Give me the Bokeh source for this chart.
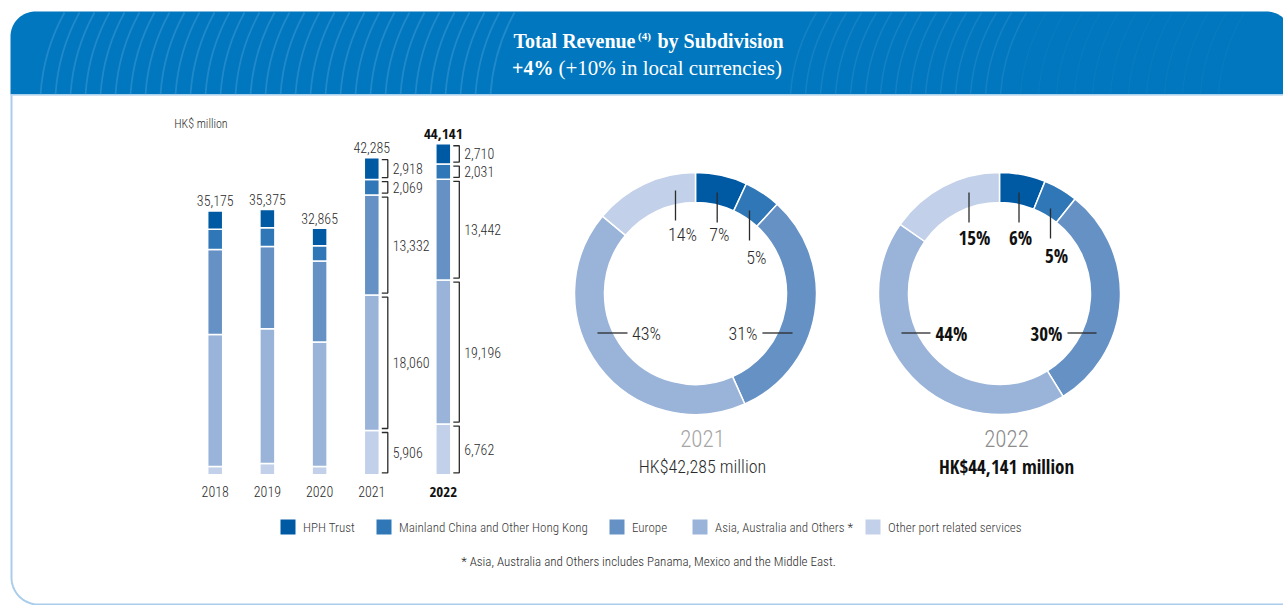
import numpy as np
from bokeh.plotting import figure
from bokeh.models import Range1d, ColumnDataSource
from bokeh.core.properties import value
from bokeh.embed import file_html
from bokeh.resources import INLINE

# ---------------- data ----------------
years = ["2018", "2019", "2020", "2021", "2022"]
series_names = ["HPH Trust", "Mainland China and Other Hong Kong", "Europe",
                "Asia, Australia and Others *", "Other port related services"]
hph_trust = [2440, 2440, 2320, 2918, 2710]
mainland_hk = [2700, 2490, 2040, 2069, 2031]
europe = [11330, 10970, 10800, 13332, 13442]
asia_aus = [17595, 17960, 16595, 18060, 19196]
other_port = [1110, 1515, 1110, 5906, 6762]
totals = [35175, 35375, 32865, 42285, 44141]
pct_2021 = ["7%", "5%", "31%", "43%", "14%"]
pct_2022 = ["6%", "5%", "30%", "44%", "15%"]
unit_label = "HK$ million"
footnote = "* Asia, Australia and Others includes Panama, Mexico and the Middle East."

colors = ["#0059A3", "#2F77B6", "#6691C5", "#9AB3D9", "#C2D1E9"]
header_blue = "#0077BE"
text_col = "#2B2B2B"

# ---------------- layout helpers ----------------
W, H = 1283, 605
def Y(ry):
    return H - ry

LIGHT = value("Roboto Condensed Light")
BOLD = value("Open Sans Condensed")
SERIF = value("Liberation Serif")

K = 0.0075
BASE = Y(474.3)
SLOT0, SLOT_PX = 214.7, 52.2
bar_slots = [0, 1, 2, 3, 4.37]

p = figure(width=W, height=H, x_range=Range1d(0, W), y_range=Range1d(0, H),
           output_backend="svg", toolbar_location=None, min_border=0,
           x_axis_location=None, y_axis_location=None)
p.grid.visible = False
p.outline_line_color = None
p.background_fill_color = "white"
p.border_fill_color = "white"
p.extra_y_ranges = {"val": Range1d(-BASE / K, (H - BASE) / K)}
p.extra_x_ranges = {"slot": Range1d((0 - SLOT0) / SLOT_PX, (W - SLOT0) / SLOT_PX)}

def header_path(x0, x1, y0, y1, r):
    t1 = np.linspace(np.pi, np.pi / 2, 24)
    t2 = np.linspace(np.pi / 2, 0, 24)
    xs = [x0] + list(x0 + r + r * np.cos(t1)) + list(x1 - r + r * np.cos(t2)) + [x1]
    ys = [y1] + list(y0 + r - r * np.sin(t1)) + list(y0 + r - r * np.sin(t2)) + [y1]
    return xs, [Y(v) for v in ys]

hx, hy = header_path(10, 1291, 11, 94, 25)
p.patch(hx, hy, fill_color=header_blue, line_color=None)

xb = np.arange(40, 500, 15.0)
p.quadratic(x0=xb, y0=Y(94), x1=xb + 24, y1=Y(12), cx=xb + 3, cy=Y(50),
            line_color="#2B8FCD", line_width=1.8, line_alpha=0.75)
xb2 = np.arange(790, 1010, 15.0)
p.quadratic(x0=xb2, y0=Y(94), x1=xb2 + 26, y1=Y(12), cx=xb2 + 3, cy=Y(50),
            line_color="#2B8FCD", line_width=1.6, line_alpha=0.45)
xb3 = np.arange(1020, 1230, 18.0)
p.quadratic(x0=xb3, y0=Y(94), x1=xb3 + 26, y1=Y(12), cx=xb3 + 3, cy=Y(50),
            line_color="#2B8FCD", line_width=1.2, line_alpha=0.2)

t = np.linspace(np.pi, 1.5 * np.pi, 24)
bx = [11, 11] + list(38 + 27 * np.cos(t)) + [1300]
by = [94.5, 577] + list(577 - 27 * np.sin(t)) + [604]
p.line(bx, [Y(v) for v in by], line_color="#A9CDEB", line_width=2)
p.line([10, 1291], [Y(94.5), Y(94.5)], line_color="#BBD8EE", line_width=1.5)

# title
p.text(x=[635], y=[Y(40)], text=["Total Revenue"], text_font=SERIF, text_font_style="bold",
       text_font_size="20px", text_color="white", text_align="right", text_baseline="middle")
p.text(x=[637.5], y=[Y(35.5)], text=["(4)"], text_font=SERIF, text_font_style="bold",
       text_font_size="11px", text_color="white", text_align="left", text_baseline="middle")
p.text(x=[657], y=[Y(40)], text=["by Subdivision"], text_font=SERIF, text_font_style="bold",
       text_font_size="20px", text_color="white", text_align="left", text_baseline="middle")
p.text(x=[553], y=[Y(67.5)], text=["+4%"], text_font=SERIF, text_font_style="bold",
       text_font_size="20px", text_color="white", text_align="right", text_baseline="middle")
p.text(x=[558], y=[Y(67.5)], text=["(+10% in local currencies)"], text_font=SERIF,
       text_font_size="21px", text_color="white", text_align="left", text_baseline="middle")

# bars
src = ColumnDataSource(dict(slot=bar_slots, other=other_port, asia=asia_aus, europe=europe,
                            mainland=mainland_hk, hph=hph_trust))
stackers = ["other", "asia", "europe", "mainland", "hph"]
p.vbar_stack(stackers, x="slot", width=15 / SLOT_PX, fill_color=colors[::-1],
             line_color="white", line_width=1.5, source=src,
             x_range_name="slot", y_range_name="val")

p.text(x=[SLOT0 - 41], y=[Y(123)], text=[unit_label], text_font=LIGHT, text_font_size="12px",
       text_color=text_col, text_align="left", text_baseline="middle")

tot_lbl = [f"{v:,}" for v in totals]
p.text(x=bar_slots[:4], y=totals[:4], text=tot_lbl[:4], x_range_name="slot", y_range_name="val",
       text_font=LIGHT, text_font_size="14px", text_color=text_col, text_align="center",
       text_baseline="middle", y_offset=-10)
p.text(x=bar_slots[4:], y=totals[4:], text=tot_lbl[4:], x_range_name="slot", y_range_name="val",
       text_font=BOLD, text_font_style="bold", text_font_size="15px", text_color="#111111",
       text_align="center", text_baseline="middle", y_offset=-10)
p.text(x=bar_slots[:4], y=[0] * 4, text=years[:4], x_range_name="slot", y_range_name="val",
       text_font=LIGHT, text_font_size="14px", text_color=text_col, text_align="center",
       text_baseline="middle", y_offset=17)
p.text(x=bar_slots[4:], y=[0], text=years[4:], x_range_name="slot", y_range_name="val",
       text_font=BOLD, text_font_style="bold", text_font_size="15px", text_color="#111111",
       text_align="center", text_baseline="middle", y_offset=17)

stack_vals = [other_port, asia_aus, europe, mainland_hk, hph_trust]
br_xs, br_ys, lx, ly, lt = [], [], [], [], []
pad = 2.0 / K
for i in (3, 4):
    cum = 0
    xa = bar_slots[i] + 10 / SLOT_PX
    xc = bar_slots[i] + 16 / SLOT_PX
    for s in stack_vals:
        lo, hi = cum, cum + s[i]
        cum = hi
        br_xs.append([xa, xc, xc, xa])
        br_ys.append([hi - pad, hi - pad, lo + pad, lo + pad])
        lx.append(bar_slots[i] + 21 / SLOT_PX)
        ly.append((lo + hi) / 2)
        lt.append(f"{s[i]:,}")
p.multi_line(br_xs, br_ys, x_range_name="slot", y_range_name="val",
             line_color=text_col, line_width=1.3)
p.text(x=lx, y=ly, text=lt, x_range_name="slot", y_range_name="val", text_font=LIGHT,
       text_font_size="14px", text_color=text_col, text_align="left", text_baseline="middle")

# donuts
donut_idx = [3, 4]
centers = [(695, 293), (999, 293)]
caption_dx = 7
pcts = [pct_2021, pct_2022]
vlines = [
    [(21.7, -101, -71), (54, -83, -53), None, None, (-20, -103, -73)],
    [(19.5, -101, -71), (51, -85, -55), None, None, (-30.5, -101, -71)],
]
vtext = [
    [(24, -59), (61, -36), None, None, (-13, -59)],
    [(21, -56), (57, -38), None, None, (-25, -56)],
]
hl = [((67, 97), (-98, -68), 62, -63.5), ((68, 97), (-98, -69), 63, -64)]

for j, idx in enumerate(donut_idx):
    cx, cy = centers[j]
    vals = np.array([hph_trust[idx], mainland_hk[idx], europe[idx], asia_aus[idx], other_port[idx]], float)
    cum = np.concatenate([[0], np.cumsum(vals / vals.sum())])
    start = np.pi / 2 - 2 * np.pi * cum[:-1]
    end = np.pi / 2 - 2 * np.pi * cum[1:]
    p.annular_wedge(x=[cx] * 5, y=[Y(cy)] * 5, inner_radius=91, outer_radius=121,
                    start_angle=start, end_angle=end, direction="clock",
                    fill_color=colors, line_color="white", line_width=1.5)
    if j == 1:
        fnt, style, tcol, fs = BOLD, "bold", "#111111", "19px"
    else:
        fnt, style, tcol, fs = LIGHT, "normal", text_col, "18px"
    xs, ys = [], []
    for k in (0, 1, 4):
        dx, d0, d1 = vlines[j][k]
        xs.append([cx + dx, cx + dx]); ys.append([Y(cy + d0), Y(cy + d1)])
    (e0, e1), (a0, a1), er, al = hl[j]
    xs += [[cx + e0, cx + e1], [cx + a0, cx + a1]]
    ys += [[Y(cy + 39.5)] * 2, [Y(cy + 39.5)] * 2]
    p.multi_line(xs, ys, line_color=text_col, line_width=1.3)
    ks = (0, 1, 4)
    p.text(x=[cx + vtext[j][k][0] for k in ks], y=[Y(cy + vtext[j][k][1]) for k in ks],
           text=[pcts[j][k] for k in ks], text_font=fnt, text_font_style=style,
           text_font_size=fs, text_color=tcol, text_align="center", text_baseline="middle")
    p.text(x=[cx + er], y=[Y(cy + 40)], text=[pcts[j][2]], text_font=fnt, text_font_style=style,
           text_font_size=fs, text_color=tcol, text_align="right", text_baseline="middle")
    p.text(x=[cx + al], y=[Y(cy + 40)], text=[pcts[j][3]], text_font=fnt, text_font_style=style,
           text_font_size=fs, text_color=tcol, text_align="left", text_baseline="middle")
    p.text(x=[cx + caption_dx], y=[Y(437.5)], text=[years[idx]], text_font=LIGHT,
           text_font_size="23px", text_color="#8C8C8C" if j == 1 else "#A6A6A6",
           text_align="center", text_baseline="middle")
    p.text(x=[cx + caption_dx], y=[Y(466)], text=[f"HK${totals[idx]:,} million"], text_font=fnt,
           text_font_style=style, text_font_size=fs, text_color=tcol,
           text_align="center", text_baseline="middle")

# legend
leg_sq = [287.5, 383.5, 616.5, 699.5, 872.5]
p.rect(x=leg_sq, y=[Y(526.5)] * 5, width=15, height=15, fill_color=colors, line_color=None)
p.text(x=[v + 15 for v in leg_sq], y=[Y(526.5)] * 5, text=series_names, text_font=LIGHT,
       text_font_size="13px", text_color="#3A3A3A", text_align="left", text_baseline="middle")
p.text(x=[648], y=[Y(561)], text=[footnote], text_font=LIGHT, text_font_size="13px",
       text_color=text_col, text_align="center", text_baseline="middle")

open("out.html", "w").write(file_html(p, INLINE))
